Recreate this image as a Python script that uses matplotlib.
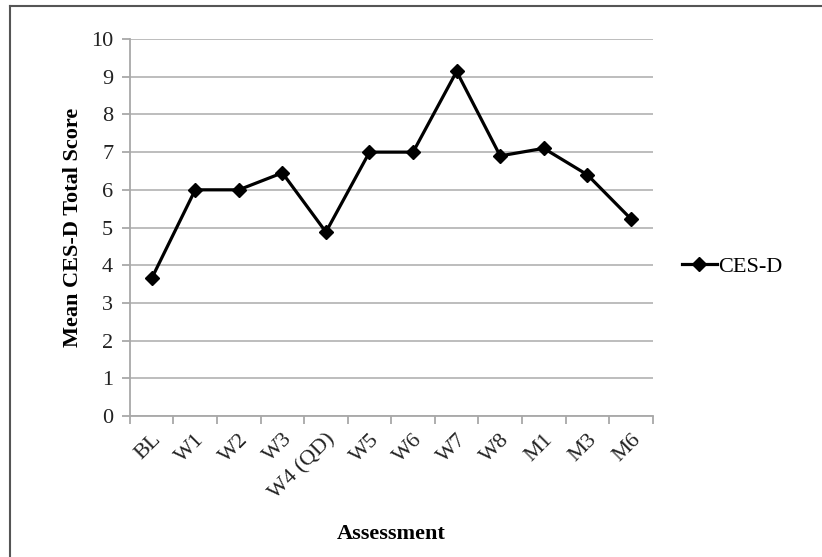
import matplotlib
matplotlib.use('Agg')
import matplotlib.pyplot as plt
from matplotlib.lines import Line2D

plt.rcParams['font.family'] = ['Liberation Serif', 'DejaVu Serif']

# data
assessments = ['BL', 'W1', 'W2', 'W3', 'W4 (QD)', 'W5', 'W6', 'W7', 'W8', 'M1', 'M3', 'M6']
cesd_mean = [3.65, 6.0, 6.0, 6.45, 4.88, 7.0, 7.0, 9.14, 6.9, 7.1, 6.4, 5.23]
y_ticks = list(range(0, 11))

fig = plt.figure(figsize=(8.22, 5.57), dpi=100)
ax = fig.add_axes([0.158, 0.253, 0.636, 0.677])

x = list(range(len(assessments)))
ax.plot(x, cesd_mean, color='black', lw=2.3, marker='D', markersize=7.5,
        markerfacecolor='black', markeredgecolor='black', label='CES-D', zorder=3)

# axes styling (Excel look)
ax.set_ylim(0, 10)
ax.set_xlim(-0.5, len(assessments) - 0.5)
ax.set_yticks(y_ticks)
ax.yaxis.grid(True, color='#b8b8b8', lw=1.3)
ax.set_axisbelow(True)
for s in ['top', 'right']:
    ax.spines[s].set_visible(False)
for s in ['left', 'bottom']:
    ax.spines[s].set_color('#a8a8a8')
    ax.spines[s].set_linewidth(1.3)

ax.set_xticks(x)
ax.set_xticklabels(assessments, rotation=45, ha='right', rotation_mode='anchor')
ax.set_xticks([i - 0.5 for i in range(len(assessments) + 1)], minor=True)
ax.tick_params(axis='x', which='major', length=0, pad=10, labelsize=16, labelcolor='#222222')
ax.tick_params(axis='x', which='minor', length=6, width=1.3, color='#a8a8a8')
ax.tick_params(axis='y', length=6, width=1.3, color='#a8a8a8', labelsize=16,
               labelcolor='#222222', pad=6)

ax.set_ylabel('Mean CES-D Total Score', fontsize=16, fontweight='bold')
ax.yaxis.set_label_coords(-0.09, 0.5)
ax.set_xlabel('Assessment', fontsize=16, fontweight='bold')
ax.xaxis.set_label_coords(0.5, -0.285)

ax.legend(loc='center left', bbox_to_anchor=(0.805, 0.522), bbox_transform=fig.transFigure,
          frameon=False, fontsize=16, handlelength=1.6, handletextpad=0.05)

# outer frame (only left/top visible in reference)
fig.add_artist(Line2D([0.012, 0.012], [0.0, 0.989], transform=fig.transFigure, color='#555555', lw=1.5))
fig.add_artist(Line2D([0.012, 1.0], [0.989, 0.989], transform=fig.transFigure, color='#555555', lw=1.5))

fig.savefig('out.png', dpi=100)
